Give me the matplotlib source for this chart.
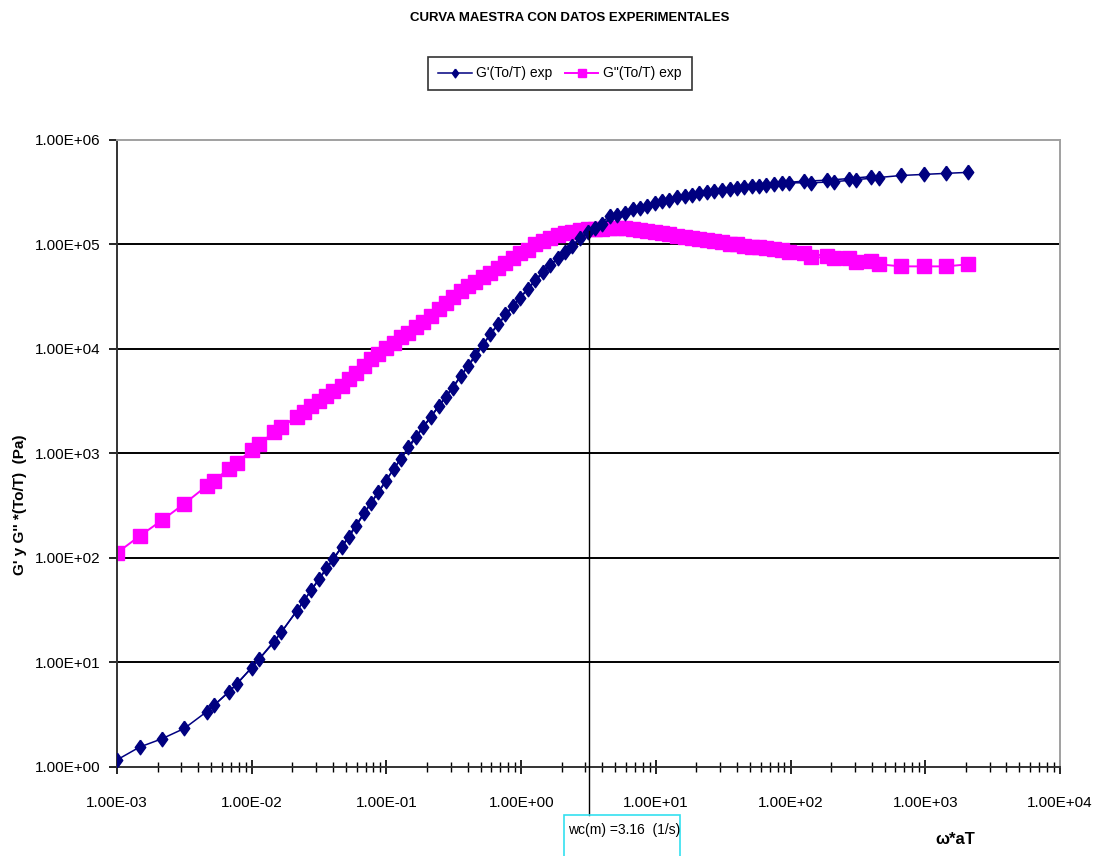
import matplotlib
matplotlib.use("Agg")
import matplotlib.pyplot as plt
from matplotlib.patches import Rectangle
import numpy as np

plt.rcParams["font.family"] = ["Liberation Sans", "DejaVu Sans"]

# Frequency sweep (rad/s) used at every temperature
freq = [0.1, 0.147, 0.215, 0.316, 0.464, 0.681, 1.0, 1.47, 2.15, 3.16, 4.64, 6.81, 10.0]

# Horizontal shift factor aT of each temperature sweep
shift_aT = [0.0100, 0.0525, 0.275, 1.445, 7.59, 39.8, 209.0]

# G'(To/T) in Pa, one list per temperature sweep
g_storage = [
    [1.17, 1.55, 1.86, 2.34, 3.39, 5.25, 8.91, 15.8, 30.9, 63.1, 126, 269, 550],
    [3.89, 6.17, 10.7, 19.5, 38.9, 79.4, 158, 339, 708, 1450, 2820, 5500, 11000],
    [49.0, 97.7, 204, 427, 891, 1780, 3470, 6920, 13800, 25700, 45700, 74100, 115000],
    [1150, 2240, 4270, 8710, 17400, 30900, 55000, 85100, 132000, 186000, 219000, 251000, 282000],
    [21400, 37200, 63100, 97700, 145000, 191000, 224000, 263000, 288000, 316000, 339000, 363000, 380000],
    [158000, 200000, 234000, 269000, 295000, 324000, 347000, 363000, 389000, 403000, 412000, 427000, 447000],
    [309000, 331000, 355000, 372000, 389000, 389000, 398000, 417000, 437000, 457000, 468000, 479000, 490000],
]

# G''(To/T) in Pa, one list per temperature sweep
g_loss = [
    [112, 162, 229, 331, 490, 708, 1070, 1620, 2240, 3160, 4470, 6920, 10200],
    [550, 813, 1230, 1780, 2510, 3550, 5130, 7940, 11500, 16200, 24000, 35500, 49000],
    [2820, 3980, 5890, 8910, 12900, 18200, 27500, 39800, 53700, 74100, 100000, 123000, 138000],
    [14100, 20900, 31600, 43700, 58900, 83200, 107000, 129000, 141000, 145000, 141000, 132000, 120000],
    [66100, 89100, 115000, 132000, 141000, 145000, 138000, 129000, 117000, 110000, 102000, 95500, 91200],
    [141000, 143000, 135000, 126000, 115000, 107000, 100000, 95500, 89100, 83200, 77600, 74100, 69200],
    [112000, 105000, 97700, 93300, 85100, 75900, 74100, 67600, 64600, 61700, 61700, 61700, 64600],
]

# Crossover point of the master curve
wc = 3.16          # 1/s
g_cross = 1.35e5   # Pa

x_decades = [1e-3, 1e-2, 1e-1, 1e0, 1e1, 1e2, 1e3, 1e4]
y_decades = [1e0, 1e1, 1e2, 1e3, 1e4, 1e5, 1e6]

NAVY = "#000080"
MAGENTA = "#FF00FF"

# tall diamond like the spreadsheet marker
diamond = np.array([[0, 1], [0.72, 0], [0, -1], [-0.72, 0], [0, 1]])

fig = plt.figure(figsize=(10.96, 8.56), dpi=100)
ax = fig.add_axes([0.1068, 0.104, 0.8604, 0.7325])

for i, aT in enumerate(shift_aT):
    x = np.array(freq) * aT
    ax.plot(x, g_storage[i], color=NAVY, lw=1.1, marker=diamond, ms=10.5,
            mec=NAVY, mfc=NAVY, label="G'(To/T) exp" if i == 0 else None, zorder=3)
for i, aT in enumerate(shift_aT):
    x = np.array(freq) * aT
    ax.plot(x, g_loss[i], color=MAGENTA, lw=1.4, marker="s", ms=9.5,
            mec=MAGENTA, mfc=MAGENTA, label="G\"(To/T) exp" if i == 0 else None, zorder=2)

ax.set_xscale("log")
ax.set_yscale("log")
ax.set_xlim(x_decades[0], x_decades[-1])
ax.set_ylim(y_decades[0], y_decades[-1])

ax.set_xticks(x_decades)
ax.set_xticklabels([f"{v:.2E}" for v in x_decades])
ax.set_yticks(y_decades)
ax.set_yticklabels([f"{v:.2E}" for v in y_decades])
ax.yaxis.set_minor_locator(matplotlib.ticker.NullLocator())
ax.xaxis.set_minor_locator(matplotlib.ticker.LogLocator(base=10, subs=np.arange(2, 10)))
ax.xaxis.set_minor_formatter(matplotlib.ticker.NullFormatter())

ax.tick_params(axis="x", which="major", direction="inout", length=10, width=1.2,
               pad=16, labelsize=11)
ax.tick_params(axis="x", which="minor", direction="inout", length=7, width=1.0)
ax.tick_params(axis="y", which="major", direction="out", length=6, width=1.2,
               pad=6, labelsize=11)

# horizontal decade grid
for yv in y_decades[1:-1]:
    ax.axhline(yv, color="black", lw=1.4, zorder=1)

for side in ("left", "bottom"):
    ax.spines[side].set_color("#333333")
    ax.spines[side].set_linewidth(1.4)
for side in ("top", "right"):
    ax.spines[side].set_color("#A0A0A0")
    ax.spines[side].set_linewidth(1.4)

# crossover marker line, running below the axis into the label box
trans = matplotlib.transforms.blended_transform_factory(ax.transData, ax.transAxes)
y_top = (np.log10(g_cross) - 0) / 6.0
ax.plot([wc, wc], [y_top, -0.077], transform=trans, color="black", lw=1.0,
        clip_on=False, zorder=4)

fig.patches.append(Rectangle((564 / 1096, -0.05), 116 / 1096, 0.05 + (1 - 815 / 856),
                             transform=fig.transFigure, fill=False,
                             edgecolor="#33E0F0", lw=1.2))
fig.text(568 / 1096, 1 - 830 / 856, f"wc(m) ={wc:.2f}  (1/s)", fontsize=10,
         ha="left", va="center")

fig.text(0.52, 1 - 18 / 856, "CURVA MAESTRA CON DATOS EXPERIMENTALES",
         fontsize=9.5, fontweight="bold", ha="center", va="center")

fig.text(20 / 1096, 1 - 505 / 856, "G' y G'' *(To/T)  (Pa)", rotation=90,
         fontsize=11, fontweight="bold", ha="center", va="center")
fig.text(955 / 1096, 1 - 840 / 856, "ω*aT", fontsize=12, fontweight="bold",
         ha="center", va="center")

leg = fig.legend(loc="center", bbox_to_anchor=(560 / 1096, 1 - 73.5 / 856), ncol=2,
                 frameon=True, fancybox=False, edgecolor="black", fontsize=10,
                 handlelength=2.4, columnspacing=0.9, handletextpad=0.35,
                 borderpad=0.7, markerscale=0.6)
leg.get_frame().set_linewidth(1.2)

fig.savefig("out.png", dpi=100)
